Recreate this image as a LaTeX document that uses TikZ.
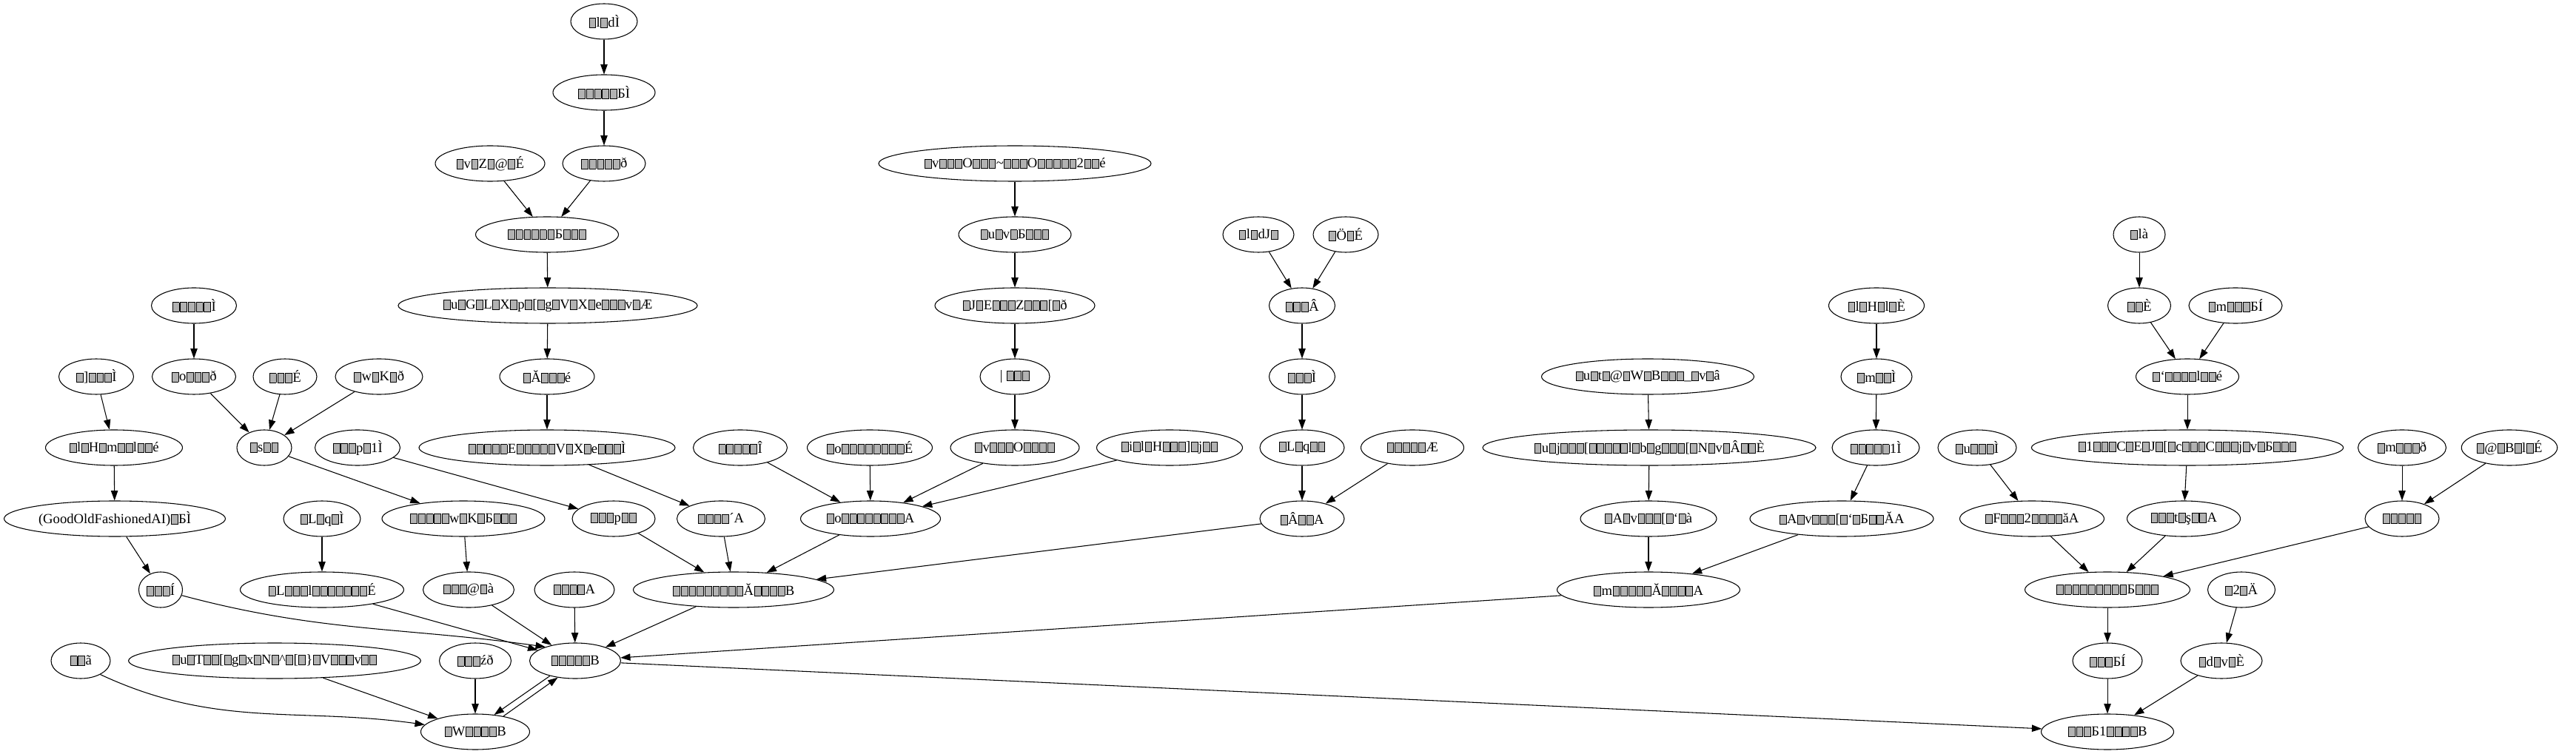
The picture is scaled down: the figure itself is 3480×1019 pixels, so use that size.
\documentclass[tikz,border=0pt]{standalone}
\usepackage{fontspec}
\setmainfont{Liberation Serif}
\usepackage{tikz}
\usetikzlibrary{arrows.meta,shapes.geometric}
\newcommand\tofu{\kern0.4pt\raisebox{-0.5pt}{\setlength\fboxsep{0pt}\setlength\fboxrule{0.6pt}\fcolorbox{black}{black!30}{\rule{0pt}{9pt}\hspace{6pt}}}\kern0.4pt}

\begin{document}
\begin{tikzpicture}[x=0.75pt,y=-0.75pt,
    >={Triangle[length=10pt,width=7pt]},
    every node/.style={ellipse,draw,line width=0.8pt,inner sep=1pt,minimum height=36pt,
      font=\fontsize{14pt}{16pt}\selectfont},
    wd/.style={minimum width=0.75*#1pt},
    edge/.style={->,line width=0.8pt}]
  \useasboundingbox (0,0) rectangle (3480,1019);
  \node[wd=90] (a0) at (816,29) {\tofu l\tofu dÌ};
  \node[wd=138] (a1) at (816,125) {\tofu\tofu\tofu\tofu\tofu БÌ};
  \node[wd=148] (b0) at (662,221) {\tofu v\tofu Z\tofu @\tofu É};
  \node[wd=112] (a2) at (816,221) {\tofu\tofu\tofu\tofu\tofu ð};
  \node[wd=368] (c0) at (1371,221) {\tofu v\tofu\tofu\tofu O\tofu\tofu\tofu\textasciitilde\tofu\tofu\tofu O\tofu\tofu\tofu\tofu\tofu 2\tofu\tofu é};
  \node[wd=193] (a3) at (739,317) {\tofu\tofu\tofu\tofu\tofu\tofu Б\tofu\tofu\tofu};
  \node[wd=152] (c1) at (1371,317) {\tofu u\tofu v\tofu Б\tofu\tofu\tofu};
  \node[wd=96] (d0) at (1700,317) {\tofu l\tofu dJ\tofu};
  \node[wd=88] (d1) at (1818,317) {\tofu Ö\tofu É};
  \node[wd=70] (e0) at (2890,317) {\tofu là};
  \node[wd=401] (a4) at (740,413) {\tofu u\tofu G\tofu L\tofu X\tofu p\tofu[\tofu g\tofu V\tofu X\tofu e\tofu\tofu\tofu v\tofu Æ};
  \node[wd=115] (f0) at (262,413) {\tofu\tofu\tofu\tofu\tofu Ì};
  \node[wd=216] (c2) at (1371,413) {\tofu J\tofu E\tofu\tofu\tofu Z\tofu\tofu\tofu[\tofu ð};
  \node[wd=89] (d2) at (1759,413) {\tofu\tofu\tofu Â};
  \node[wd=129] (g0) at (2535,413) {\tofu l\tofu H\tofu l\tofu È};
  \node[wd=85] (e1) at (2890,413) {\tofu\tofu È};
  \node[wd=126] (e2) at (3020,413) {\tofu m\tofu\tofu\tofu БÍ};
  \node[wd=101] (h0) at (130,509) {\tofu]\tofu\tofu\tofu Ì};
  \node[wd=113] (f1) at (262,509) {\tofu o\tofu\tofu\tofu ð};
  \node[wd=86] (i0) at (385,509) {\tofu\tofu\tofu É};
  \node[wd=118] (j0) at (512,509) {\tofu w\tofu K\tofu ð};
  \node[wd=128] (a5) at (739,509) {\tofu Ă\tofu\tofu\tofu é};
  \node[wd=94] (c3) at (1371,509) {| \tofu\tofu\tofu};
  \node[wd=89] (d3) at (1759,509) {\tofu\tofu\tofu Ì};
  \node[wd=287] (k0) at (2226,509) {\tofu u\tofu t\tofu @\tofu W\tofu B\tofu\tofu\tofu\_\tofu v\tofu â};
  \node[wd=96] (g1) at (2535,509) {\tofu m\tofu\tofu Ì};
  \node[wd=139] (e3) at (2955,509) {\tofu`\tofu\tofu\tofu\tofu l\tofu\tofu é};
  \node[wd=185] (h1) at (154,605) {\tofu l\tofu H\tofu m\tofu\tofu l\tofu\tofu é};
  \node[wd=74] (ij) at (357,605) {\tofu s\tofu\tofu};
  \node[wd=115] (l0) at (483,605) {\tofu\tofu\tofu p\tofu 1Ì};
  \node[wd=346] (a6) at (739,605) {\tofu\tofu\tofu\tofu\tofu E\tofu\tofu\tofu\tofu\tofu V\tofu X\tofu e\tofu\tofu\tofu Ì};
  \node[wd=127] (m0) at (1000,605) {\tofu\tofu\tofu\tofu\tofu Î};
  \node[wd=169] (m1) at (1175,605) {\tofu o\tofu\tofu\tofu\tofu\tofu\tofu\tofu\tofu É};
  \node[wd=174] (m2) at (1371,605) {\tofu v\tofu\tofu\tofu O\tofu\tofu\tofu\tofu};
  \node[wd=197] (m3) at (1580,605) {\tofu i\tofu l\tofu H\tofu\tofu\tofu]\tofu j\tofu\tofu};
  \node[wd=114] (d4) at (1759,605) {\tofu L\tofu q\tofu\tofu};
  \node[wd=139] (n0) at (1908,605) {\tofu\tofu\tofu\tofu\tofu Æ};
  \node[wd=450] (k1) at (2228,605) {\tofu u\tofu j\tofu\tofu\tofu[\tofu\tofu\tofu\tofu\tofu l\tofu b\tofu g\tofu\tofu\tofu[\tofu N\tofu v\tofu Â\tofu\tofu È};
  \node[wd=118] (g2) at (2534,605) {\tofu\tofu\tofu\tofu\tofu 1Ì};
  \node[wd=106] (o0) at (2671,605) {\tofu u\tofu\tofu\tofu Ì};
  \node[wd=414] (e4) at (2955,605) {\tofu 1\tofu\tofu\tofu C\tofu E\tofu J\tofu[\tofu c\tofu\tofu\tofu C\tofu\tofu\tofu j\tofu v\tofu Б\tofu\tofu\tofu};
  \node[wd=119] (p0) at (3245,605) {\tofu m\tofu\tofu\tofu ð};
  \node[wd=122] (p1) at (3390,605) {\tofu @\tofu B\tofu l\tofu É};
  \node[wd=299] (h2) at (155,701) {(GoodOldFashionedAI)\tofu БÌ};
  \node[wd=104] (q0) at (435,701) {\tofu L\tofu q\tofu Ì};
  \node[wd=220] (ij1) at (626,701) {\tofu\tofu\tofu\tofu\tofu w\tofu K\tofu Б\tofu\tofu\tofu};
  \node[wd=112] (l1) at (829,701) {\tofu\tofu\tofu p\tofu\tofu};
  \node[wd=119] (a7) at (974,701) {\tofu\tofu\tofu\tofu´A};
  \node[wd=189] (m4) at (1176,701) {\tofu o\tofu\tofu\tofu\tofu\tofu\tofu\tofu\tofu A};
  \node[wd=114] (d5) at (1759,701) {\tofu Â\tofu\tofu A};
  \node[wd=184] (k2) at (2227,701) {\tofu A\tofu v\tofu\tofu\tofu[\tofu`\tofu à};
  \node[wd=248] (g3) at (2488,701) {\tofu A\tofu v\tofu\tofu\tofu[\tofu`\tofu Б\tofu\tofu ĂA};
  \node[wd=195] (o1) at (2745,701) {\tofu F\tofu\tofu\tofu 2\tofu\tofu\tofu\tofu ăA};
  \node[wd=153] (e5) at (2950,701) {\tofu\tofu\tofu t\tofu ş\tofu\tofu A};
  \node[wd=100] (p2) at (3245,701) {\tofu\tofu\tofu\tofu\tofu};
  \node[wd=59] (h3) at (217,797) {\tofu\tofu\tofu Í};
  \node[wd=221] (q1) at (435,797) {\tofu L\tofu\tofu\tofu l\tofu\tofu\tofu\tofu\tofu\tofu\tofu É};
  \node[wd=123] (ij2) at (633,797) {\tofu\tofu\tofu @\tofu à};
  \node[wd=108] (r0) at (776,797) {\tofu\tofu\tofu\tofu A};
  \node[wd=271] (big) at (991,797) {\tofu\tofu\tofu\tofu\tofu\tofu\tofu\tofu\tofu Ă\tofu\tofu\tofu\tofu B};
  \node[wd=247] (k3) at (2227,797) {\tofu m\tofu\tofu\tofu\tofu\tofu Ă\tofu\tofu\tofu\tofu A};
  \node[wd=223] (e6) at (2847,797) {\tofu\tofu\tofu\tofu\tofu\tofu\tofu\tofu\tofu Б\tofu\tofu\tofu};
  \node[wd=91] (s0) at (3028,797) {\tofu 2\tofu Ä};
  \node[wd=80] (t0) at (109,893) {\tofu\tofu ã};
  \node[wd=394] (t1) at (371,893) {\tofu u\tofu T\tofu\tofu[\tofu g\tofu x\tofu N\tofu\textasciicircum\tofu[\tofu\}\tofu V\tofu\tofu\tofu v\tofu\tofu};
  \node[wd=97] (t2) at (642,893) {\tofu\tofu\tofu źð};
  \node[wd=123] (hub) at (777,893) {\tofu\tofu\tofu\tofu\tofu B};
  \node[wd=94] (e7) at (2847,893) {\tofu\tofu\tofu БÍ};
  \node[wd=110] (s1) at (3001,893) {\tofu d\tofu v\tofu È};
  \node[wd=147] (w) at (642,989) {\tofu W\tofu\tofu\tofu\tofu B};
  \node[wd=179] (z) at (2847,989) {\tofu\tofu\tofu Б1\tofu\tofu\tofu\tofu B};
  \foreach \s/\t in {a0/a1,a1/a2,a2/a3,b0/a3,a3/a4,a4/a5,a5/a6,a6/a7,a7/big,
      c0/c1,c1/c2,c2/c3,c3/m2,m0/m4,m1/m4,m2/m4,m3/m4,m4/big,
      d0/d2,d1/d2,d2/d3,d3/d4,d4/d5,n0/d5,d5/big,l0/l1,l1/big,
      f0/f1,f1/ij,i0/ij,j0/ij,ij/ij1,ij1/ij2,ij2/hub,h0/h1,h1/h2,h2/h3,
      q0/q1,q1/hub,r0/hub,big/hub,k0/k1,k1/k2,k2/k3,g0/g1,g1/g2,g2/g3,g3/k3,k3/hub,
      e0/e1,e1/e3,e2/e3,e3/e4,e4/e5,e5/e6,o0/o1,o1/e6,p0/p2,p1/p2,p2/e6,e6/e7,e7/z,
      s0/s1,s1/z,hub/z,t1/w,t2/w}
    \draw[edge] (\s) -- (\t);
  \draw[edge] (h3.-15) to[out=-15,in=172] (hub.155);
  \draw[edge] (t0.-35) to[out=-25,in=172] (w.172);
  \draw[edge] (hub.211) -- (w.42);
  \draw[edge] (w.29) -- (hub.224);
\end{tikzpicture}
\end{document}
